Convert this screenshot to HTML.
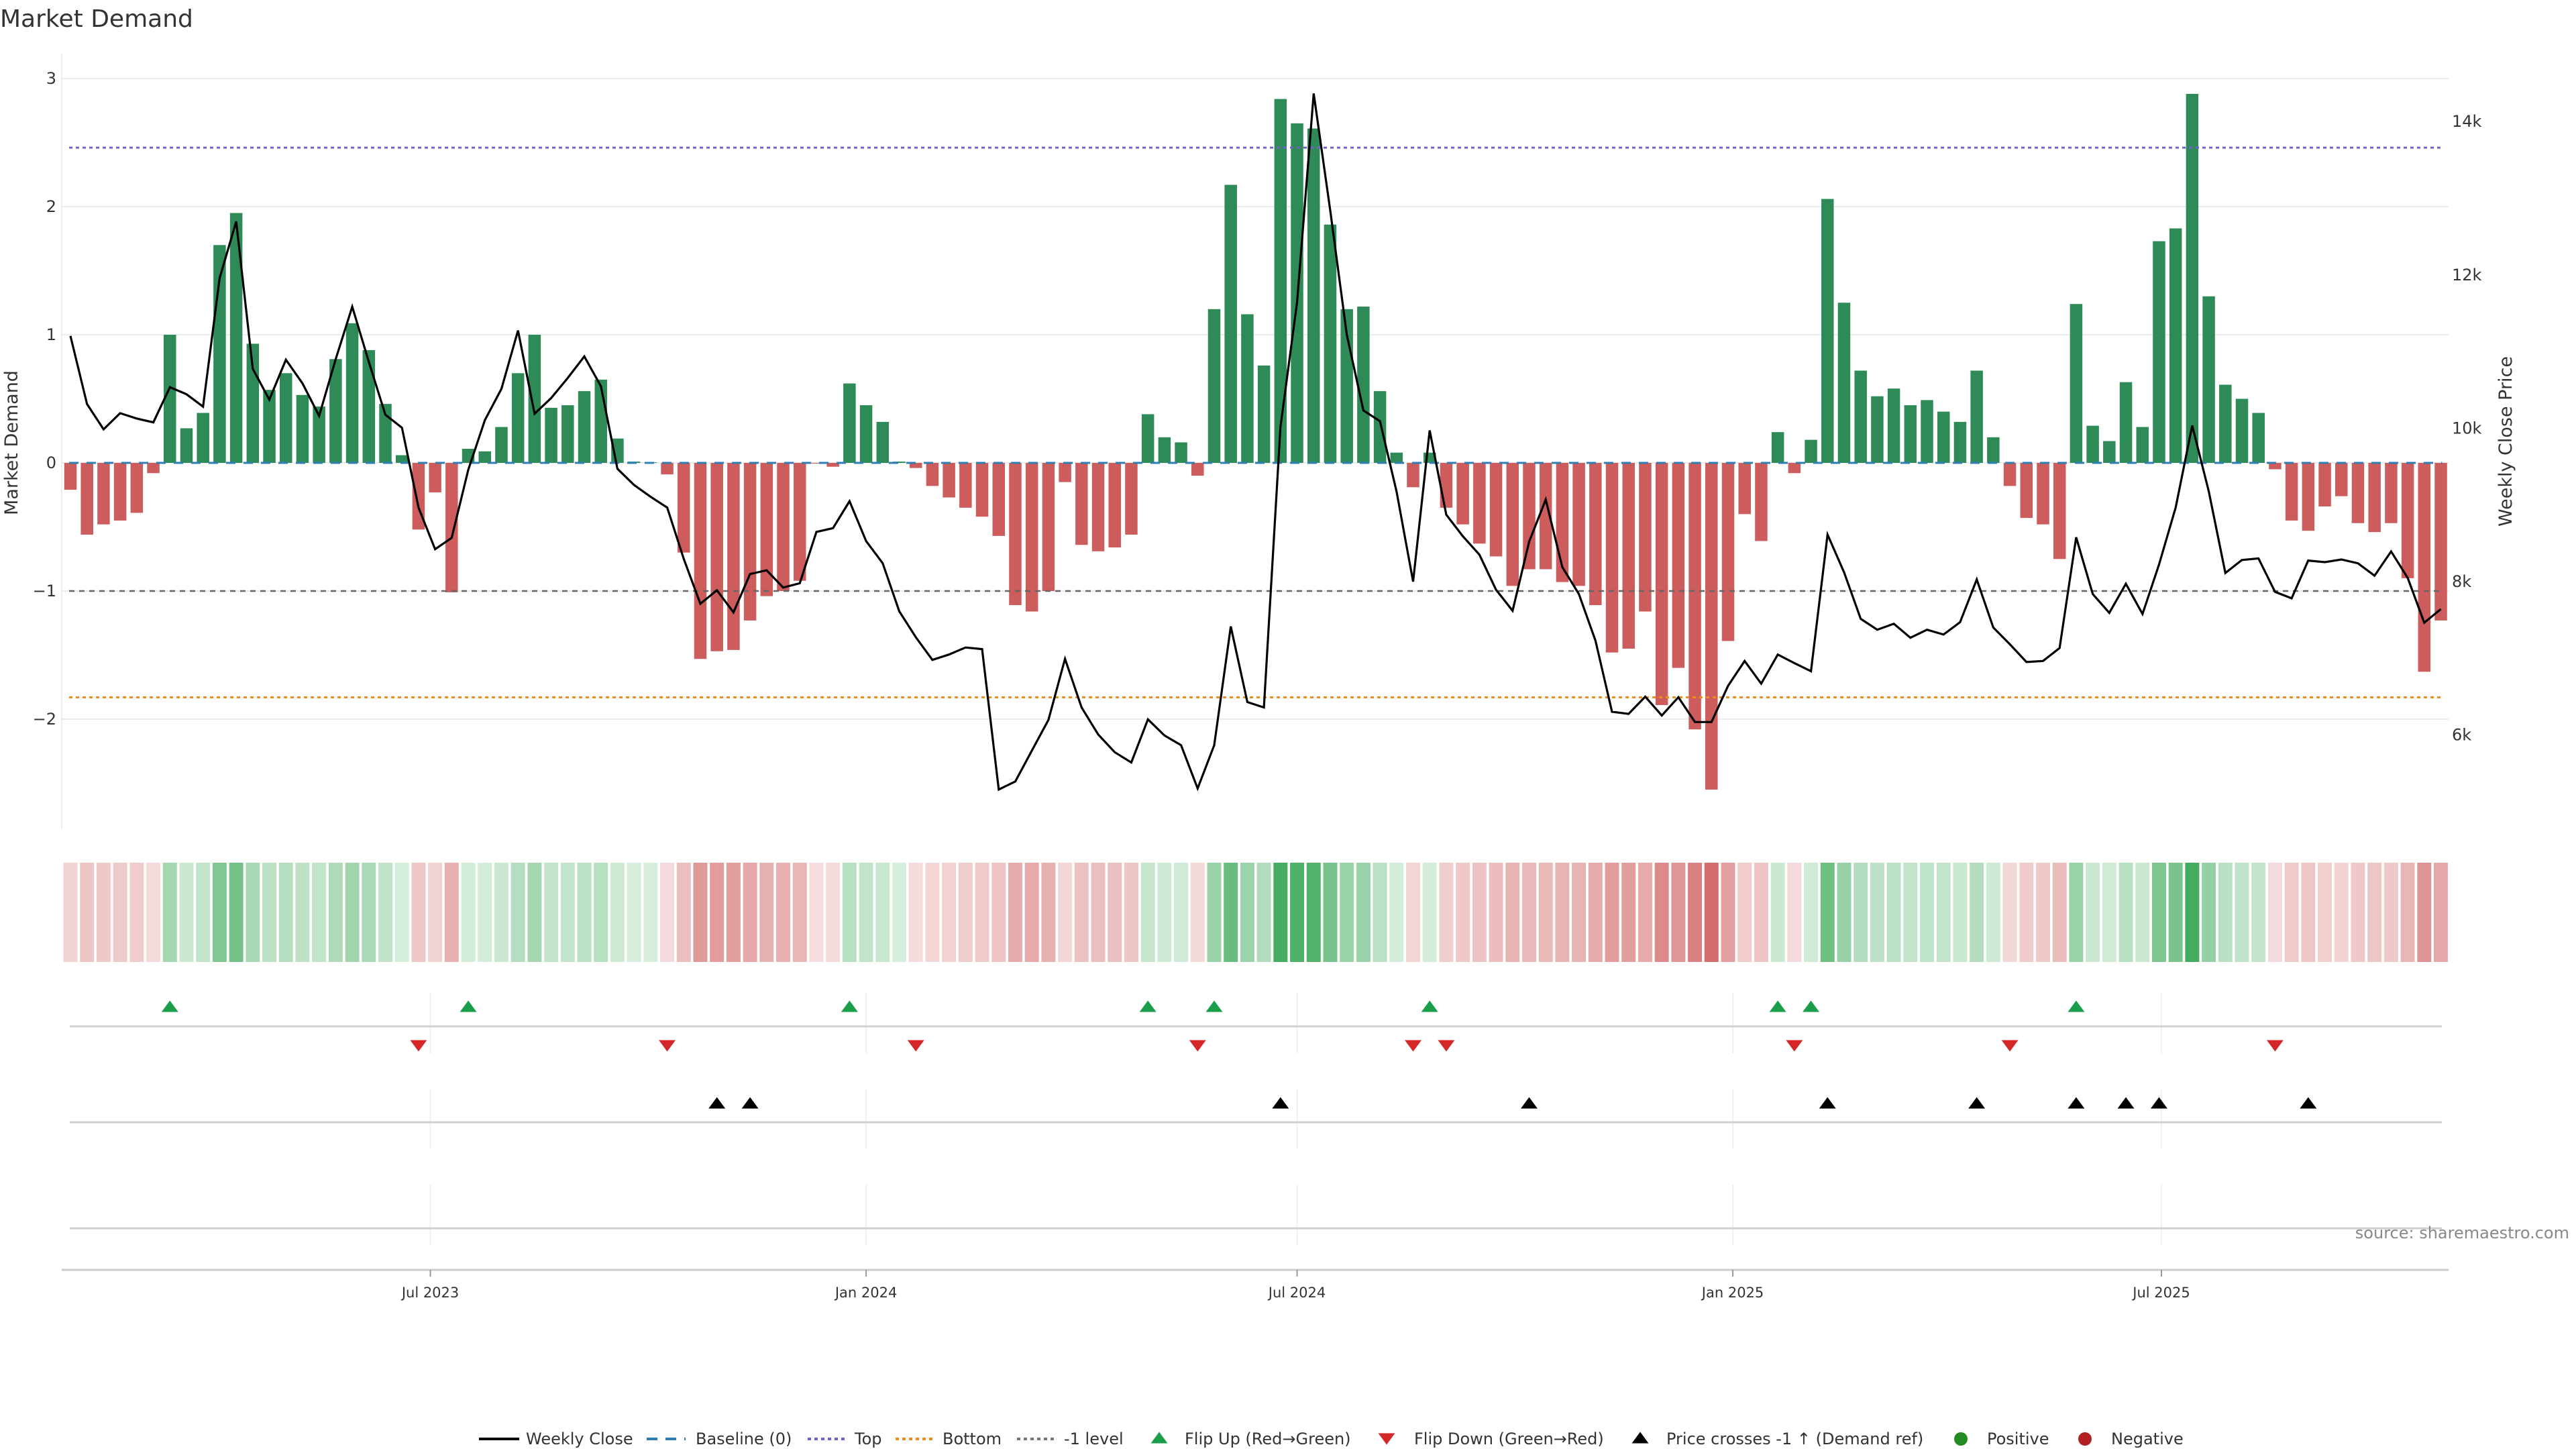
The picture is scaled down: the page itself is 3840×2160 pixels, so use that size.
<!DOCTYPE html>
<html><head><meta charset="utf-8"><style>
html,body{margin:0;padding:0;background:#fff;}
svg{display:block;font-family:"DejaVu Sans","Liberation Sans",sans-serif;}
</style></head><body>
<svg id="chart" width="3840" height="2160" viewBox="0 0 3840 2160" xmlns="http://www.w3.org/2000/svg">
<text x="0" y="40" font-size="36" fill="#333">Market Demand</text>
<g id="main"></g>
<g id="heat"></g>
<g id="lower"></g>
<text x="3830" y="1846" font-size="24" fill="#888" text-anchor="end">source: sharemaestro.com</text>
<g id="legend"></g>
</svg>
<script>
const demand = [-0.21,-0.56,-0.48,-0.45,-0.39,-0.08,1.00,0.27,0.39,1.70,
1.95,0.93,0.57,0.70,0.53,0.44,0.81,1.09,0.88,0.46,
0.06,-0.52,-0.23,-1.01,0.11,0.09,0.28,0.70,1.00,0.43,
0.45,0.56,0.65,0.19,0.01,0.005,-0.09,-0.70,-1.53,-1.47,
-1.46,-1.23,-1.04,-1.00,-0.92,-0.005,-0.03,0.62,0.45,0.32,
0.01,-0.04,-0.18,-0.27,-0.35,-0.42,-0.57,-1.11,-1.16,-1.00,
-0.15,-0.64,-0.69,-0.66,-0.56,0.38,0.20,0.16,-0.10,1.20,
2.17,1.16,0.76,2.84,2.65,2.61,1.86,1.20,1.22,0.56,
0.08,-0.19,0.08,-0.35,-0.48,-0.63,-0.73,-0.96,-0.83,-0.83,
-0.93,-0.96,-1.11,-1.48,-1.45,-1.16,-1.89,-1.60,-2.08,-2.55,
-1.39,-0.40,-0.61,0.24,-0.08,0.18,2.06,1.25,0.72,0.52,
0.58,0.45,0.49,0.40,0.32,0.72,0.20,-0.18,-0.43,-0.48,
-0.75,1.24,0.29,0.17,0.63,0.28,1.73,1.83,2.88,1.30,
0.61,0.50,0.39,-0.05,-0.45,-0.53,-0.34,-0.26,-0.47,-0.54,
-0.47,-0.90,-1.63,-1.23];
const price = [11204,10317,9986,10197,10127,10077,10535,10444,10282,11958,
12697,10775,10373,10894,10585,10162,10901,11585,10866,10176,
10007,8965,8423,8570,9458,10106,10514,11275,10190,10394,
10655,10937,10549,9472,9261,9106,8965,8296,7711,7887,
7599,8099,8148,7923,7979,8648,8697,9049,8528,8240,
7613,7275,6979,7049,7141,7120,5289,5394,5796,6197,
6993,6359,6007,5775,5641,6204,5993,5866,5303,5866,
7415,6430,6359,10021,11641,14366,12838,11218,10232,10092,
9176,8000,9972,8873,8592,8352,7894,7620,8521,9070,
8190,7838,7232,6303,6275,6500,6254,6493,6169,6169,
6641,6965,6669,7049,6937,6831,8613,8120,7514,7373,
7451,7268,7373,7310,7472,8028,7401,7183,6951,6965,
7134,8577,7838,7592,7972,7577,8225,8965,10035,9176,
8113,8282,8303,7866,7782,8275,8254,8289,8239,8077,
8394,8049,7465,7641];
const startDate = "2023-01-30";
const leftTicks = [3,2,1,0,-1,-2];
const leftTickLabels = ["3","2","1","0","\u22121","\u22122"];
const rightTicks = [6000,8000,10000,12000,14000];
const rightTickLabels = ["6k","8k","10k","12k","14k"];
const dateTicks = ["2023-07-01","2024-01-01","2024-07-01","2025-01-01","2025-07-01"];
const dateTickLabels = ["Jul 2023","Jan 2024","Jul 2024","Jan 2025","Jul 2025"];
const topLevel = 2.46, bottomLevel = -1.83, minusLevel = -1;

const NS="http://www.w3.org/2000/svg";
function mk(parent,tag,attrs,text){const e=document.createElementNS(NS,tag);for(const k in attrs)e.setAttribute(k,attrs[k]);if(text!==undefined)e.textContent=text;parent.appendChild(e);return e;}
const X0=105, STEP=24.71, XL=92, XR=3650;
const xi=i=>X0+STEP*i;
const t0=new Date(startDate+"T00:00:00Z").getTime();
const xd=s=>X0+STEP*((new Date(s+"T00:00:00Z").getTime()-t0)/(7*86400000));
const dY=v=>690-v*191;
const pY=v=>867-(v-8000)*0.1143;
const pInv=y=>8000-(y-867)/0.1143;

const main=document.getElementById('main');
let e=mk(main,'line',{x1:XL,x2:XL,y1:80,y2:1236,stroke:'#eee','stroke-width':2});

leftTicks.forEach((t,k)=>{
  let g=mk(main,'line',{x1:XL,x2:XR,y1:dY(t),y2:dY(t),stroke:'#ececec','stroke-width':2});
  
  let l=mk(main,'text',{x:84,y:dY(t)+8,'font-size':24,fill:'#333','text-anchor':'end'},leftTickLabels[k]);
  
});
rightTicks.forEach((t,k)=>{
  let l=mk(main,'text',{x:3655,y:pY(t)+8,'font-size':24,fill:'#333'},rightTickLabels[k]);
  
});
e=mk(main,'text',{x:0,y:0,'font-size':27,fill:'#333','text-anchor':'middle',transform:'translate(26,660) rotate(-90)'},'Market Demand');

e=mk(main,'text',{x:0,y:0,'font-size':27,fill:'#333','text-anchor':'middle',transform:'translate(3744,658) rotate(-90)'},'Weekly Close Price');

const BW=18.5;
demand.forEach((v,i)=>{
  const y=Math.min(dY(v),dY(0)),h=Math.abs(dY(v)-dY(0));
  let b=mk(main,'rect',{x:xi(i)-BW/2,y:y,width:BW,height:Math.max(h,0.5),fill:v>=0?'#2e8b57':'#cd5c5c'});
  
});
const xa=xi(0)-2, xb=xi(demand.length-1)+2;
e=mk(main,'line',{x1:xa,x2:xb,y1:dY(0),y2:dY(0),stroke:'#2f7fb5','stroke-width':3,'stroke-dasharray':'14,12'});

e=mk(main,'line',{x1:xa,x2:xb,y1:dY(topLevel),y2:dY(topLevel),stroke:'#6f63c9','stroke-width':3,'stroke-dasharray':'5,5'});

e=mk(main,'line',{x1:xa,x2:xb,y1:dY(bottomLevel),y2:dY(bottomLevel),stroke:'#f08c1a','stroke-width':3,'stroke-dasharray':'5,5'});

e=mk(main,'line',{x1:xa,x2:xb,y1:dY(minusLevel),y2:dY(minusLevel),stroke:'#666','stroke-width':2.5,'stroke-dasharray':'8,7'});

e=mk(main,'polyline',{points:price.map((p,i)=>xi(i).toFixed(1)+','+pY(p).toFixed(1)).join(' '),fill:'none',stroke:'#000','stroke-width':3.2,'stroke-linejoin':'miter'});


const heat=document.getElementById('heat');
function cellColor(v){const a=Math.min(1,0.18+0.72*Math.abs(v)/3);const base=v>=0?[40,160,70]:[200,70,70];return 'rgb('+base.map(c=>Math.round(255-a*(255-c))).join(',')+')';}
demand.forEach((v,i)=>{
  let c=mk(heat,'rect',{x:xi(i)-10.5,y:1286,width:21,height:148,fill:cellColor(v)});
  
});

const lower=document.getElementById('lower');
const panels=[[1480,1570,1530],[1624,1712,1673],[1766,1856,1831]];
panels.forEach((p,k)=>{
  dateTicks.forEach(d=>{let g=mk(lower,'line',{x1:xd(d),x2:xd(d),y1:p[0],y2:p[1],stroke:'#f0f0f0','stroke-width':2});
    });
  let l=mk(lower,'line',{x1:104,x2:3640,y1:p[2],y2:p[2],stroke:'#d0d0d0','stroke-width':3});
  
});
e=mk(lower,'line',{x1:XL,x2:XR,y1:1893,y2:1893,stroke:'#ccc','stroke-width':3});

dateTicks.forEach((d,k)=>{
  let t=mk(lower,'line',{x1:xd(d),x2:xd(d),y1:1893,y2:1903,stroke:'#999','stroke-width':2});
  
  let l=mk(lower,'text',{x:xd(d),y:1934,'font-size':21,fill:'#333','text-anchor':'middle'},dateTickLabels[k]);
  
});
function tri(parent,cx,cy,up,fill){const w=12.5,h=8.5;const pts=up?[[cx-w,cy+h],[cx+w,cy+h],[cx,cy-h]]:[[cx-w,cy-h],[cx+w,cy-h],[cx,cy+h]];return mk(parent,'polygon',{points:pts.map(p=>p.join(',')).join(' '),fill:fill});}
const thr=pInv(dY(-1));
for(let i=1;i<demand.length;i++){
  if(demand[i]>0&&demand[i-1]<0){let t=tri(lower,xi(i),1500,true,'#1a9e4a');}
  if(demand[i]<0&&demand[i-1]>0){let t=tri(lower,xi(i),1559,false,'#d62728');}
  if(price[i]>thr&&price[i-1]<=thr){let t=tri(lower,xi(i),1644,true,'#000');}
}

const lg=document.getElementById('legend');const LY=2145;
function ltext(x,s){let t=mk(lg,'text',{x:x,y:LY+8,'font-size':24,fill:'#333'},s);}
function lline(x1,x2,stroke,dash,w){let l=mk(lg,'line',{x1:x1,x2:x2,y1:LY,y2:LY,stroke:stroke,'stroke-width':w,'stroke-dasharray':dash});}
lline(714,774,'#000','none',4);ltext(784,'Weekly Close');
lline(964,1022,'#2f7fb5','16,12',4);ltext(1037,'Baseline (0)');
lline(1204,1262,'#6f63c9','5,5',4);ltext(1274,'Top');
lline(1335,1393,'#f08c1a','5,5',4);ltext(1405,'Bottom');
lline(1516,1574,'#777','5,5',4);ltext(1586,'-1 level');
e=tri(lg,1728,LY-2,true,'#1a9e4a');ltext(1766,'Flip Up (Red\u2192Green)');
e=tri(lg,2067,LY,false,'#d62728');ltext(2108,'Flip Down (Green\u2192Red)');
e=tri(lg,2445,LY-2,true,'#000');ltext(2484,'Price crosses -1 \u2191 (Demand ref)');
e=mk(lg,'circle',{cx:2923,cy:LY,r:10,fill:'#228b22'});ltext(2962,'Positive');
e=mk(lg,'circle',{cx:3108,cy:LY,r:10,fill:'#b22222'});ltext(3147,'Negative');
</script>
</body></html>
